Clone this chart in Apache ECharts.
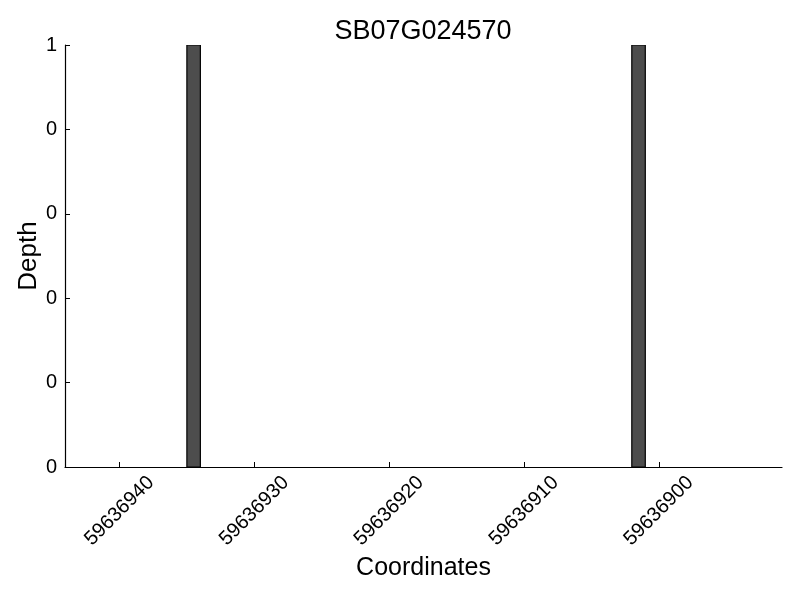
<!DOCTYPE html>
<html>
<head>
<meta charset="utf-8">
<script src="https://cdn.jsdelivr.net/npm/echarts@6/dist/echarts.min.js"></script>
<style>html,body{margin:0;padding:0;background:#fff}#c{width:800px;height:600px}</style>
</head>
<body>
<div id="c"></div>
<script>
const title = 'SB07G024570';
const positions = [59636934, 59636901];
const depths = [1, 1];
const xTicks = [59636940, 59636930, 59636920, 59636910, 59636900];
const yTicks = [0, 0.2, 0.4, 0.6, 0.8, 1];
const xMin = 59636890.86, xMax = 59636944.04;

const FONT = 'Liberation Sans';
const chart = echarts.init(document.getElementById('c'), null, {renderer: 'canvas'});
chart.setOption({
  animation: false,
  backgroundColor: '#fff',
  title: {text: title, left: 418, textAlign: 'center', top: 13, textStyle: {fontFamily: FONT, fontSize: 27, fontWeight: 'normal', color: '#000'}},
  grid: {left: 65, right: 18, top: 45, bottom: 133, containLabel: false, outerBoundsMode: 'none'},
  xAxis: {
    type: 'value', inverse: true, min: xMin, max: xMax,
    name: 'Coordinates', nameLocation: 'middle', nameGap: 89, nameMoveOverlap: false,
    nameTextStyle: {fontFamily: FONT, fontSize: 25, color: '#000'},
    axisLine: {show: true, onZero: false, lineStyle: {color: '#000', width: 1.2}},
    axisTick: {show: true, inside: true, length: 5, customValues: xTicks, lineStyle: {color: '#000'}},
    axisLabel: {customValues: xTicks, rotate: 45, align: 'center', verticalAlign: 'middle', margin: 44,
      fontFamily: FONT, fontSize: 20, color: '#000', formatter: v => String(v)},
    splitLine: {show: false}
  },
  yAxis: {
    type: 'value', min: 0, max: 1, interval: 0.2,
    name: 'Depth', nameLocation: 'middle', nameGap: 23, nameMoveOverlap: false,
    nameTextStyle: {fontFamily: FONT, fontSize: 26, color: '#000'},
    axisLine: {show: true, lineStyle: {color: '#000', width: 1.2}},
    axisTick: {show: true, inside: true, length: 5, lineStyle: {color: '#000'}},
    axisLabel: {margin: 8, fontFamily: FONT, fontSize: 20, color: '#000', formatter: v => String(Math.floor(v + 1e-9))},
    splitLine: {show: false}
  },
  series: [{
    type: 'custom',
    clip: true,
    data: positions.map((p, i) => [p, depths[i]]),
    renderItem: function (params, api) {
      const x = api.value(0), y = api.value(1);
      const a = api.coord([x, 0]);
      const b = api.coord([x + 1, y]);
      return {
        type: 'rect',
        shape: {x: Math.min(a[0], b[0]), y: Math.min(a[1], b[1]), width: Math.abs(a[0] - b[0]), height: Math.abs(a[1] - b[1])},
        style: {fill: '#4d4d4d', stroke: '#000', lineWidth: 1.2}
      };
    }
  }]
});
</script>
</body>
</html>
